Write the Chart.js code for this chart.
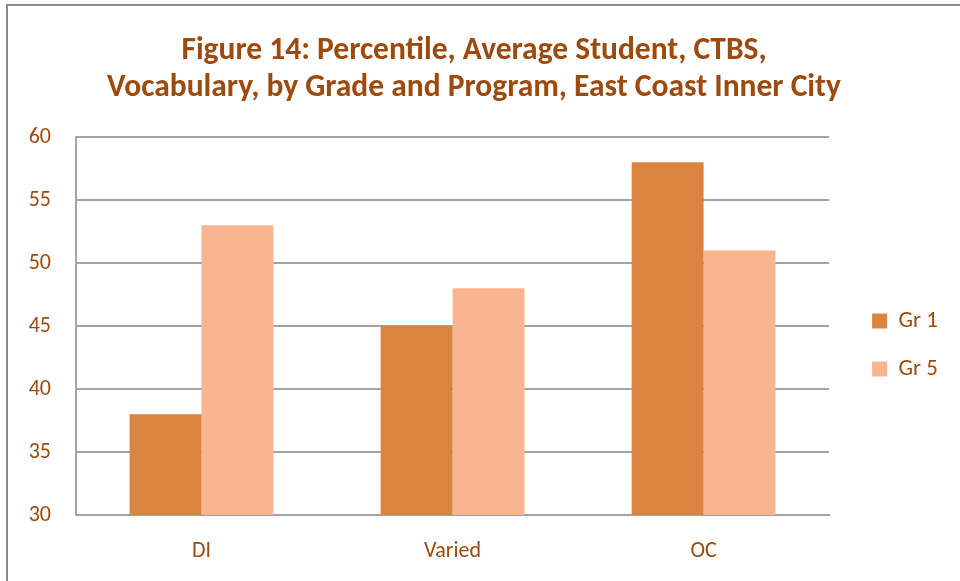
<!DOCTYPE html>
<html>
<head>
<meta charset="utf-8">
<script src="https://cdn.jsdelivr.net/npm/chart.js@4/dist/chart.umd.min.js"></script>
<style>
html,body{margin:0;padding:0;background:#fff;overflow:hidden;}
#wrap{position:relative;width:960px;height:581px;}
#frame{position:absolute;left:6px;top:4px;width:1000px;height:1000px;border:2px solid #8a8a8a;box-sizing:border-box;pointer-events:none;}
canvas{position:absolute;left:0;top:0;}
</style>
</head>
<body>
<div id="wrap">
<canvas id="c" width="960" height="581"></canvas>
<div id="frame"></div>
</div>
<script>
const categories = ["DI", "Varied", "OC"];
const gr1 = [38, 45, 58];
const gr5 = [53, 48, 51];
const seriesNames = ["Gr 1", "Gr 5"];
const titleLines = ["Figure 14: Percentile, Average Student, CTBS,", "Vocabulary, by Grade and Program, East Coast Inner City"];

const FONT = "Carlito, Calibri, Lato, 'Liberation Sans', sans-serif";
const TXT = "#9C4A0E";
const GRID = "#A3A3A3";

new Chart(document.getElementById('c'), {
  type: 'bar',
  data: {
    labels: categories,
    datasets: [
      { label: seriesNames[0], data: gr1, backgroundColor: "#DA843F", borderWidth: 0 },
      { label: seriesNames[1], data: gr5, backgroundColor: "#F9B590", borderWidth: 0 }
    ]
  },
  options: {
    responsive: false,
    animation: false,
    devicePixelRatio: 1,
    layout: { padding: { left: 0, right: 12, top: 0, bottom: 0 } },
    datasets: { bar: { categoryPercentage: 0.573, barPercentage: 1.0 } },
    plugins: {
      title: {
        display: true,
        text: titleLines,
        color: TXT,
        font: { family: FONT, size: 31.5, weight: 'bold', lineHeight: 1.175 },
        padding: { top: 33, bottom: 30 }
      },
      legend: {
        display: true,
        position: 'right',
        fullSize: false,
        align: 'center',
        title: { display: true, text: ' ', padding: { top: 0, bottom: 14 }, font: { size: 20 } },
        labels: {
          color: TXT,
          font: { family: FONT, size: 23 },
          boxWidth: 15,
          boxHeight: 15,
          padding: 25
        }
      },
      tooltip: { enabled: false }
    },
    scales: {
      x: {
        afterFit: (s) => { s.height = 66; },
        grid: { display: false, drawTicks: false },
        border: { display: true, color: GRID, width: 2 },
        ticks: { color: TXT, font: { family: FONT, size: 22 }, padding: 23 }
      },
      y: {
        min: 30, max: 60,
        afterFit: (s) => { s.width = 76; },
        grid: { color: GRID, lineWidth: 2, drawTicks: false },
        border: { display: true, color: GRID, width: 2 },
        ticks: { stepSize: 5, color: TXT, font: { family: FONT, size: 22 }, padding: 25 }
      },
      spacer: {
        type: 'linear',
        position: 'right',
        display: true,
        afterFit: (s) => { s.width = 18; },
        grid: { display: false, drawTicks: false },
        border: { display: false },
        ticks: { display: false }
      }
    }
  }
});
</script>
</body>
</html>
